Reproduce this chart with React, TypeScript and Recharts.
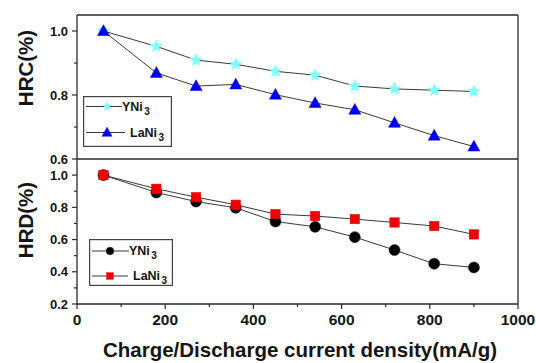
import React from 'react';
import { LineChart, Line, XAxis, YAxis, Legend } from 'recharts';

// ---- data ----
const currentDensity = [60, 180, 270, 360, 450, 540, 630, 720, 810, 900];
const hrcYNi3 = [1.0, 0.952, 0.909, 0.896, 0.874, 0.862, 0.828, 0.819, 0.815, 0.811];
const hrcLaNi3 = [1.0, 0.869, 0.828, 0.833, 0.801, 0.775, 0.754, 0.713, 0.673, 0.639];
const hrdYNi3 = [1.0, 0.892, 0.836, 0.797, 0.712, 0.679, 0.615, 0.535, 0.45, 0.427];
const hrdLaNi3 = [1.0, 0.915, 0.863, 0.816, 0.758, 0.746, 0.727, 0.706, 0.684, 0.632];
const seriesNames = ['YNi3', 'LaNi3'];
const xTicks = [0, 100, 200, 300, 400, 500, 600, 700, 800, 900, 1000];
const hrcTicks = [0.6, 0.7, 0.8, 0.9, 1.0];
const hrdTicks = [0.2, 0.3, 0.4, 0.5, 0.6, 0.7, 0.8, 0.9, 1.0];
const xTitle = 'Charge/Discharge current density(mA/g)';
const hrcTitle = 'HRC(%)';
const hrdTitle = 'HRD(%)';

const topData = currentDensity.map((x, i) => ({ x, a: hrcYNi3[i], b: hrcLaNi3[i] }));
const botData = currentDensity.map((x, i) => ({ x, a: hrdYNi3[i], b: hrdLaNi3[i] }));

// ---- style ----
const FONT = '"Liberation Sans", Arial, Helvetica, sans-serif';
const AXIS = '#2a2a2a';
const LINE = '#3a3a3a';
const TEXT = '#151515';
const CYAN = '#80ffff';
const BLUE = '#0000f0';
const RED = '#f00000';
const BLACK = '#000000';

// ---- markers ----
const Star = ({ cx, cy, r, fill }: any) => {
  const pts: string[] = [];
  for (let i = 0; i < 10; i++) {
    const ang = -Math.PI / 2 + (i * Math.PI) / 5;
    const rr = i % 2 === 0 ? r : r * 0.45;
    pts.push(`${cx + rr * Math.cos(ang)},${cy + rr * Math.sin(ang)}`);
  }
  return <polygon points={pts.join(' ')} fill={fill} stroke={fill} strokeWidth={0.5} />;
};
const Tri = ({ cx, cy, r, fill }: any) => (
  <polygon
    points={`${cx},${cy - r * 1.05} ${cx - r},${cy + r * 0.75} ${cx + r},${cy + r * 0.75}`}
    fill={fill}
    stroke={fill}
    strokeWidth={0.5}
  />
);
const Circ = ({ cx, cy, r, fill }: any) => <circle cx={cx} cy={cy} r={r} fill={fill} stroke="#222" strokeWidth={0.6} />;
const Sq = ({ cx, cy, r, fill }: any) => (
  <rect x={cx - r} y={cy - r} width={2 * r} height={2 * r} fill={fill} stroke={fill} strokeWidth={0.5} />
);

const mkDot = (Comp: any, r: number, fill: string) => (p: any) =>
  <Comp key={`d-${p.index}`} cx={p.cx} cy={p.cy} r={r} fill={fill} />;

// ---- ticks ----
const YTick = (props: any) => {
  const { x, y, payload } = props;
  const v = payload.value;
  const major = Math.round(v * 10) % 2 === 0;
  return (
    <g>
      <line x1={x} x2={x - (major ? 5 : 3)} y1={y} y2={y} stroke={AXIS} strokeWidth={1.2} />
      {major && (
        <text x={x - 9} y={y + 4.6} textAnchor="end" fontSize={13} fontWeight="bold" fontFamily={FONT} fill={TEXT}>
          {v.toFixed(1)}
        </text>
      )}
    </g>
  );
};
const XTick = (props: any) => {
  const { x, y, payload } = props;
  const v = payload.value;
  const major = v % 200 === 0;
  return (
    <g>
      <line x1={x} x2={x} y1={y} y2={y + (major ? 5 : 3)} stroke={AXIS} strokeWidth={1.2} />
      {major && (
        <text x={x} y={y + 20.7} textAnchor="middle" fontSize={15.5} fontWeight="bold" fontFamily={FONT} fill={TEXT}>
          {v}
        </text>
      )}
    </g>
  );
};

const VTitle = ({ text, px, py }: any) => (
  <text
    x={px}
    y={py}
    transform={`rotate(-90 ${px} ${py})`}
    textAnchor="middle"
    dominantBaseline="central"
    fontSize={20.5}
    fontWeight="bold"
    fontFamily={FONT}
    fill={TEXT}
  >
    {text}
  </text>
);
const HTitle = ({ text, px, py }: any) => (
  <text x={px} y={py} textAnchor="middle" fontSize={20.5} fontWeight="bold" fontFamily={FONT} fill={TEXT}>
    {text}
  </text>
);

// ---- legend ----
const splitName = (n: string) => {
  const m = n.match(/^(.*?)(\d+)$/);
  return m ? [m[1], m[2]] : [n, ''];
};
const LegendPanel = ({ w, h, rows }: any) => (
  <svg width={w} height={h} style={{ display: 'block' }}>
    <rect x={0.6} y={0.6} width={w - 1.2} height={h - 1.2} fill="#fff" stroke="#444" strokeWidth={1.2} />
    {rows.map((r: any, i: number) => {
      const [base, sub] = splitName(r.name);
      const M = r.marker;
      return (
        <g key={i}>
          <line x1={r.lx1} x2={r.lx2} y1={r.y} y2={r.y} stroke={LINE} strokeWidth={1} />
          <M cx={r.mx} cy={r.y} r={r.mr} fill={r.fill} />
          <text x={r.tx} y={r.y + 4.4} fontSize={12.5} fontWeight="bold" fontFamily={FONT} fill={TEXT}>
            {base}
            <tspan dx={1.5} dy={4} fontSize={10}>
              {sub}
            </tspan>
          </text>
        </g>
      );
    })}
  </svg>
);

const W = 536;

export default function App() {
  return (
    <div style={{ position: 'absolute', left: 0, top: 0, width: W, height: 363, background: '#fff' }}>
      {/* top panel : HRC */}
      <div style={{ position: 'absolute', left: 0, top: 0 }}>
        <LineChart width={W} height={170} data={topData} margin={{ top: 14, right: 17, bottom: 10, left: 0 }}>
          <XAxis
            dataKey="x"
            type="number"
            domain={[0, 1000]}
            ticks={xTicks}
            height={1}
            tick={false}
            tickLine={false}
            axisLine={{ stroke: AXIS, strokeWidth: 1.3 }}
          />
          <XAxis
            xAxisId="top"
            orientation="top"
            type="number"
            domain={[0, 1000]}
            height={1}
            tick={false}
            tickLine={false}
            axisLine={{ stroke: AXIS, strokeWidth: 1.3 }}
          />
          <YAxis
            type="number"
            domain={[0.6, 1.05]}
            ticks={hrcTicks}
            interval={0}
            width={77}
            tickSize={0}
            tickMargin={0}
            tickLine={false}
            tick={<YTick />}
            axisLine={{ stroke: AXIS, strokeWidth: 1.3 }}
            label={<VTitle text={hrcTitle} px={25} py={68} />}
          />
          <YAxis
            yAxisId="r"
            orientation="right"
            type="number"
            domain={[0.6, 1.05]}
            width={1}
            tick={false}
            tickLine={false}
            axisLine={{ stroke: AXIS, strokeWidth: 1.3 }}
          />
          <Legend
            layout="horizontal"
            verticalAlign="middle"
            align="center"
            wrapperStyle={{ left: 83, top: 96, width: 89, height: 51, margin: 0 }}
            content={() => (
              <LegendPanel
                w={89}
                h={51}
                rows={[
                  { name: seriesNames[0], marker: Star, mr: 4.5, fill: CYAN, y: 10.5, lx1: 3, lx2: 39, mx: 24, tx: 39 },
                  { name: seriesNames[1], marker: Tri, mr: 5, fill: BLUE, y: 36.5, lx1: 3, lx2: 42, mx: 24, tx: 47 },
                ]}
              />
            )}
          />
          <Line
            dataKey="a"
            name={seriesNames[0]}
            stroke={LINE}
            strokeWidth={1}
            isAnimationActive={false}
            dot={mkDot(Star, 6.5, CYAN)}
            activeDot={false}
          />
          <Line
            dataKey="b"
            name={seriesNames[1]}
            stroke={LINE}
            strokeWidth={1}
            isAnimationActive={false}
            dot={mkDot(Tri, 6, BLUE)}
            activeDot={false}
          />
        </LineChart>
      </div>
      {/* bottom panel : HRD */}
      <div style={{ position: 'absolute', left: 0, top: 0 }}>
        <LineChart width={W} height={363} data={botData} margin={{ top: 159, right: 17, bottom: 14, left: 0 }}>
          <XAxis
            dataKey="x"
            type="number"
            domain={[0, 1000]}
            ticks={xTicks}
            interval={0}
            height={45}
            tickSize={0}
            tickMargin={0}
            tickLine={false}
            tick={<XTick />}
            axisLine={{ stroke: AXIS, strokeWidth: 1.3 }}
            label={<HTitle text={xTitle} px={300} py={357} />}
          />
          <YAxis
            type="number"
            domain={[0.2, 1.1]}
            ticks={hrdTicks}
            interval={0}
            width={77}
            tickSize={0}
            tickMargin={0}
            tickLine={false}
            tick={<YTick />}
            axisLine={{ stroke: AXIS, strokeWidth: 1.3 }}
            label={<VTitle text={hrdTitle} px={25} py={220} />}
          />
          <YAxis
            yAxisId="r"
            orientation="right"
            type="number"
            domain={[0.2, 1.1]}
            width={1}
            tick={false}
            tickLine={false}
            axisLine={{ stroke: AXIS, strokeWidth: 1.3 }}
          />
          <Legend
            layout="horizontal"
            verticalAlign="middle"
            align="center"
            wrapperStyle={{ left: 89, top: 238.5, width: 84, height: 47, margin: 0 }}
            content={() => (
              <LegendPanel
                w={84}
                h={47}
                rows={[
                  { name: seriesNames[0], marker: Circ, mr: 3.8, fill: BLACK, y: 12, lx1: 3, lx2: 40, mx: 21, tx: 40 },
                  { name: seriesNames[1], marker: Sq, mr: 3.3, fill: RED, y: 37, lx1: 3, lx2: 39, mx: 21, tx: 44 },
                ]}
              />
            )}
          />
          <Line
            dataKey="a"
            name={seriesNames[0]}
            stroke={LINE}
            strokeWidth={1}
            isAnimationActive={false}
            dot={mkDot(Circ, 5.5, BLACK)}
            activeDot={false}
          />
          <Line
            dataKey="b"
            name={seriesNames[1]}
            stroke={LINE}
            strokeWidth={1}
            isAnimationActive={false}
            dot={mkDot(Sq, 4.7, RED)}
            activeDot={false}
          />
        </LineChart>
      </div>
    </div>
  );
}
